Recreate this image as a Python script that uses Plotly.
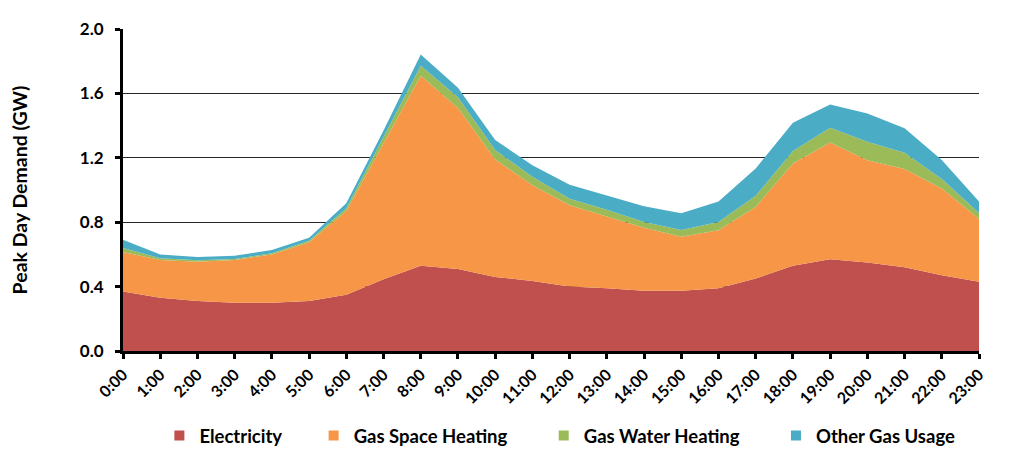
import plotly.graph_objects as go

hours = [f"{h}:00" for h in range(24)]

electricity = [0.37, 0.33, 0.31, 0.30, 0.30, 0.31, 0.35, 0.445, 0.53, 0.51, 0.46, 0.435,
               0.40, 0.39, 0.375, 0.375, 0.39, 0.45, 0.53, 0.57, 0.55, 0.52, 0.47, 0.43]
space_heating = [0.245, 0.235, 0.245, 0.265, 0.30, 0.365, 0.52, 0.845, 1.18, 1.0, 0.73, 0.595,
                 0.505, 0.445, 0.39, 0.335, 0.36, 0.445, 0.635, 0.725, 0.635, 0.61, 0.54, 0.39]
water_heating = [0.025, 0.011, 0.008, 0.006, 0.007, 0.01, 0.016, 0.04, 0.062, 0.066, 0.058, 0.052,
                 0.041, 0.042, 0.037, 0.042, 0.051, 0.069, 0.078, 0.091, 0.114, 0.102, 0.058, 0.037]
other_gas = [0.051, 0.024, 0.021, 0.021, 0.02, 0.019, 0.031, 0.04, 0.07, 0.059, 0.062, 0.072,
             0.087, 0.089, 0.097, 0.103, 0.127, 0.17, 0.174, 0.145, 0.176, 0.151, 0.118, 0.072]

series = [
    ("Electricity", electricity, "#C0504D"),
    ("Gas Space Heating", space_heating, "#F79646"),
    ("Gas Water Heating", water_heating, "#9BBB59"),
    ("Other Gas Usage", other_gas, "#4BACC6"),
]

# extra space after each legend entry (non-breaking spaces)
pads = [6, 7, 7, 0]

fig = go.Figure()
for name, values, color in series:
    fig.add_trace(go.Scatter(
        x=hours, y=values,
        name=name,
        mode="lines",
        stackgroup="demand",
        line=dict(width=0, color=color),
        fillcolor=color,
        showlegend=False,
    ))

# square legend keys like the original
for (name, values, color), n in zip(series, pads):
    fig.add_trace(go.Scatter(
        x=[None], y=[None],
        mode="markers",
        marker=dict(symbol="square", size=10, color=color),
        name=name + "\u00a0" * n,
    ))

font = "Lato, 'Open Sans', sans-serif"
# page body has an 8px margin, so the figure is a bit smaller than the window
fig.update_layout(
    width=1016, height=450,
    margin=dict(l=115, r=45, t=21, b=107, autoexpand=False),
    paper_bgcolor="white",
    plot_bgcolor="white",
    font=dict(family=font, size=17, color="black"),
    showlegend=True,
    legend=dict(
        orientation="h",
        x=0.0425, xanchor="left",
        y=-0.264, yanchor="middle",
        font=dict(family=font, size=18.5, color="black", weight="bold"),
        itemwidth=30,
        traceorder="normal",
    ),
    xaxis=dict(
        range=[0, 23],
        tickangle=-45,
        tickfont=dict(family=font, size=16, color="black", weight="bold"),
        showline=True, linecolor="black", linewidth=3,
        ticks="outside", ticklen=5, tickwidth=2.5, tickcolor="black",
        showgrid=False,
    ),
    yaxis=dict(
        range=[0, 2.0],
        dtick=0.4,
        tickformat=".1f",
        tickfont=dict(family=font, size=17, color="black", weight="bold"),
        ticklabelstandoff=8,
        showline=True, linecolor="black", linewidth=3,
        ticks="outside", ticklen=5, tickwidth=2.5, tickcolor="black",
        showgrid=True, gridcolor="#262626", gridwidth=1.2,
        zeroline=False,
        title=dict(text="Peak Day Demand (GW)",
                   font=dict(family=font, size=19.5, color="black", weight="bold"),
                   standoff=50),
    ),
)

fig.write_html("out.html")
